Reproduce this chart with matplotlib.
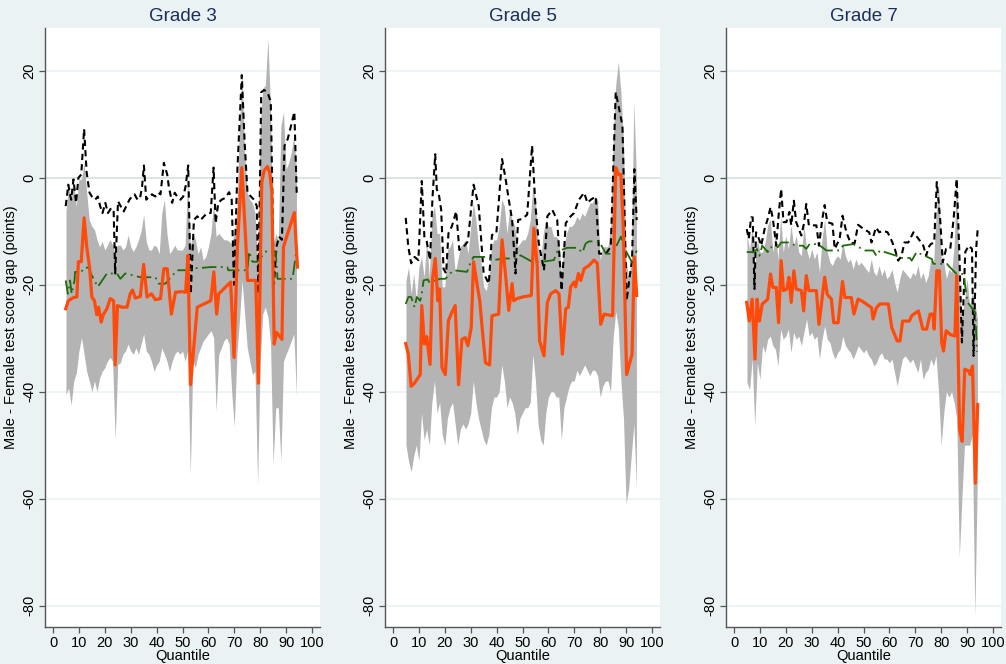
import numpy as np
import matplotlib.pyplot as plt

plt.rcParams['font.family'] = ['Liberation Sans', 'DejaVu Sans']
plt.rcParams['axes.unicode_minus'] = False

# quantile grid for the confidence band
q = list(range(5, 95))

# ---- Grade 3 ----
g3_est_x = [4.9, 5.9, 7.9, 9.2, 9.8, 10.9, 12.0, 13.0, 14.1, 15.0, 16.0, 16.9, 17.6, 18.6, 19.5, 20.8,
            22.1, 23.4, 24.0, 24.9, 26.6, 28.6, 29.8, 30.7, 31.8, 33.7, 35.0, 36.3, 38.0, 39.5, 41.5,
            42.8, 44.1, 45.7, 47.3, 49.9, 51.2, 52.1, 53.1, 55.7, 60.9, 62.1, 63.2, 64.0, 68.6, 69.9,
            71.2, 72.9, 74.4, 75.1, 78.3, 79.3, 80.6, 81.5, 82.8, 83.7, 84.5, 85.4, 86.3, 88.4, 89.0,
            93.2, 94.4]
g3_est_y = [-24.5, -23, -22.4, -22.3, -15.7, -15.7, -7.5, -12.9, -16.7, -22.3, -23, -25.6, -24.2, -27,
            -25.5, -24.5, -22.6, -23, -35, -23.9, -24.2, -24.2, -21.7, -21, -22.5, -22.2, -16.2, -22.3,
            -21.7, -22.8, -22.6, -17, -17, -25.5, -21.4, -21.3, -21.4, -14.5, -38.7, -24.2, -23, -17.6,
            -25.5, -21.7, -19.5, -33.6, -12.9, 1.9, -11.6, -19.2, -19.2, -38.4, -0.9, 1.3, 2.1, 0.9,
            -2.5, -31.1, -28.9, -30.2, -12.9, -6.5, -16.7]
g3_hi = [-6.3, -1.6, -4.1, -0.9, -5.3, -0.3, -0.3, 2.8, -2.8, -7.9, -9.1, -9.7, -11.6, -12.9, -11.9,
         -13.5, -12.6, -11.6, -12.6, -14.2, -12.6, -12.6, -13.5, -12.9, -10.7, -12.9, -13.8, -12.9,
         -11.6, -10, -6.9, -11.9, -13.5, -13.5, -12.6, -12.9, -14.2, -6.6, -4.1, -10.4, -14.2, -13.5,
         -12.6, -13.5, -13.5, -13.5, -12.6, -0.3, -12.9, -10.4, -11.6, -14.2, -12.9, -15.4, -14.8,
         -12.9, -10.4, -4.7, -11, -10.4, -11, -11.6, -11.6, -11.9, -12.3, -10.4, -6, 9.7, 19.2, 4.7,
         -2.8, -4.1, -4.7, -6.6, -15.4, 9.7, 16.7, 17.3, 26, 12.9, -12.9, -10.4, -11.6, 9.7, 12.3,
         1.6, 2.8, 4.7, 7.9, 1.6]
g3_lo = [-40.6, -39.3, -42.5, -38, -36.5, -32.4, -29.9, -33, -36.2, -38, -40, -38, -40, -37.4, -36.2,
         -35.5, -34.3, -33.6, -34.3, -49, -34.9, -34.6, -33, -32.4, -31.1, -32.4, -33, -31.8, -33,
         -31.1, -29.2, -32.4, -33, -34.3, -36.2, -35, -34.3, -31.8, -33, -34.3, -36.2, -34.3, -33,
         -32.4, -33, -32.4, -34.3, -32.4, -55.5, -34.3, -35.5, -33, -31.8, -30.5, -29.9, -29.2,
         -28.6, -29.9, -43.7, -33, -31.8, -30.5, -29.9, -31.1, -40, -46.5, -33, -26.7, -19.2, -25.5,
         -31.8, -34.3, -36.8, -36.2, -57.2, -34.3, -25.4, -24.2, -26.1, -31.1, -53.6, -43, -43, -53,
         -34.3, -33, -31.8, -30.5, -29.2, -40.7]
g3_ub_x = [4.9, 5.9, 7.0, 7.9, 8.9, 9.8, 10.9, 12.0, 13.0, 14.1, 15.0, 16.3, 17.3, 18.2, 19.1, 20.2,
           21.2, 22.4, 23.4, 24.0, 25.1, 26.1, 27.3, 28.3, 29.5, 30.5, 31.5, 32.6, 33.6, 34.4, 35.1,
           36.0, 37.1, 38.2, 39.5, 40.6, 41.5, 42.8, 44.1, 44.7, 46.0, 47.0, 47.9, 49.2, 50.3, 51.2,
           52.2, 53.2, 54.4, 55.7, 57.0, 58.3, 59.6, 60.9, 62.0, 62.8, 63.8, 65.1, 66.4, 68.0, 69.0,
           69.9, 71.2, 72.9, 74.0, 75.1, 76.4, 77.6, 78.7, 79.3, 80.4, 81.5, 82.8, 84.1, 85.3, 86.3,
           87.3, 88.4, 89.4, 90.6, 91.6, 93.2, 94.1]
g3_ub_y = [-5.3, -1.3, -4.1, -0.3, -4.7, 0, 0.6, 9.1, 0.9, -2.8, -3.5, -4.1, -3.5, -5.3, -6.6, -4.7,
           -6.6, -5.7, -6, -17.9, -4.4, -5.3, -6.3, -5.3, -4.1, -3.5, -3.1, -4.1, -3.8, -1.6, 2.3,
           -4.1, -3.5, -3.1, -3.5, -2.8, -3.1, 2.8, 0.6, -1.6, -4.7, -2.8, -3.5, -4.1, -3.5, -1.6,
           2.3, -21.7, -7.9, -7.2, -7.9, -7.2, -6.6, -6.6, 1.9, -8.5, -4.7, -4.1, -3.8, -2.7, -4.1,
           -20, 1.6, 19.2, 6.6, -2.8, -3.5, -4.1, -5.3, -21.7, 16, 16.4, 16, 14.2, -20, -12.9, -11,
           -11.6, 6, 7.2, 9.1, 12.3, -2.8]
g3_ols_x = [4.9, 5.7, 6.6, 7.2, 8.3, 8.5, 10.9, 12.1, 13.7, 15.0, 17.3, 20.8, 24.7, 26.0, 27.9, 33.7,
            39.5, 40.8, 43.4, 47.9, 52.5, 53.7, 56.3, 60.9, 67.3, 67.7, 70.5, 75.1, 75.7, 77.0, 78.9,
            82.2, 86.0, 86.7, 92.5, 93.8]
g3_ols_y = [-19.2, -21.7, -19.2, -21.7, -19.2, -17.6, -17.6, -16.8, -16.8, -18.3, -20.4, -17.9, -17.9,
            -18.9, -17.9, -18.6, -18.6, -19.8, -19.8, -17.3, -17.3, -16.9, -16.9, -16.7, -16.7, -17.3,
            -17.3, -17.3, -13.8, -15.7, -15.7, -13.8, -13.8, -18.9, -18.9, -14.2]

# ---- Grade 5 ----
g5_est_x = [4.9, 5.9, 7.0, 8.3, 10.5, 11.1, 12.1, 13.0, 14.3, 15.2, 16.3, 17.3, 18.0, 18.9, 20.2, 21.4,
            22.7, 24.0, 25.3, 26.6, 27.9, 28.9, 30.2, 31.1, 32.4, 33.5, 34.4, 35.7, 37.3, 38.2, 40.8,
            42.1, 43.4, 44.7, 46.0, 46.6, 47.9, 49.9, 53.4, 54.4, 55.7, 56.6, 58.3, 59.6, 60.9, 62.8,
            64.1, 65.4, 66.7, 67.7, 68.6, 69.9, 70.5, 71.6, 72.5, 73.8, 75.7, 77.6, 78.9, 80.2, 81.5,
            84.8, 86.0, 87.1, 88.0, 88.9, 90.2, 92.3, 93.2, 94.1]
g5_est_y = [-31, -33, -39, -38.4, -36.8, -23.9, -31.1, -29.7, -34.9, -19.2, -15.1, -23, -20.8, -35.5,
            -36.8, -26.7, -25.2, -23.9, -38.7, -30.2, -29.9, -31.4, -28, -15.7, -19.8, -23, -28, -34.6,
            -35, -25.8, -25.5, -11.6, -17.9, -24.8, -19.8, -23, -22.6, -22.3, -22, -9.4, -16.7, -30.5,
            -33.3, -23.3, -21.7, -21.1, -21.7, -33, -24.5, -24.2, -20.4, -19.5, -20.4, -17.9, -19.2,
            -17, -16.4, -15.4, -16, -27.4, -25.5, -25.8, 1.9, 0.6, 0.6, -9.1, -36.8, -33, -14.8, -22]
g5_hi = [-19.2, -16.7, -21.7, -17.9, -23, -16.7, -14.8, -18.6, -11.6, -18.6, -7.2, -5.3, -10.4, -10.4,
         -20.4, -20.4, -13.5, -12.9, -11.6, -17.9, -15.4, -12.9, -12.3, -11.6, -14.2, -9.1, -4.7, -7.9,
         -12.9, -16, -20.4, -21.1, -18.6, -12.9, -11.6, -11.6, -9.1, -4.1, -5.3, -10.4, -6, -7.9,
         -9.1, -12.9, -12.3, -11.6, -11.6, -10.4, -7.9, -1.6, -4.1, -12.9, -15.4, -10.4, -7.9, -9.1,
         -9.1, -11, -11, -11.6, -17.9, -12.9, -10.4, -9.1, -9.1, -8.5, -7.2, -7.9, -6.6, -7.2, -6,
         -4.7, -4.7, -3.5, -4.1, -15.4, -12.9, -12.9, -12.9, -9.1, 6.6, 17.3, 21.7, 16, 6.6, -15.4,
         -18.6, -15.4, 14.2, -0.3]
g5_lo = [-50, -53, -55, -52, -50, -53, -44, -49, -47, -50, -42, -38, -44, -42, -48, -50, -45, -43,
         -42, -46, -50, -47, -46, -47, -46, -44, -38, -42, -45, -47, -49, -50, -48, -43, -41, -41,
         -40, -35, -38, -43, -41, -42, -44, -48, -45, -44, -43, -43, -42, -33, -38, -46, -49, -50,
         -44, -41, -40, -40, -41, -41, -49, -43, -41, -39, -38, -38, -36, -37, -36, -35, -36, -37,
         -36, -36, -37, -41, -39, -38, -38, -40, -30, -25, -28, -38, -45, -61, -58, -52, -46, -58]
g5_ub_x = [4.9, 5.9, 7.0, 8.3, 9.8, 11.1, 12.1, 13.0, 14.3, 15.2, 16.3, 16.9, 17.6, 18.6, 19.5, 20.5,
           21.4, 22.7, 24.4, 25.6, 27.3, 28.9, 31.1, 33.1, 35.0, 37.0, 38.2, 39.9, 42.1, 43.4, 44.7,
           46.0, 47.3, 48.3, 49.9, 51.8, 53.7, 55.0, 56.3, 58.3, 59.6, 61.5, 63.4, 65.1, 66.7, 68.6,
           69.9, 71.8, 73.8, 75.1, 76.4, 78.3, 79.6, 82.2, 84.1, 86.0, 87.3, 88.6, 90.2, 91.2, 92.3,
           93.2, 94.1]
g5_ub_y = [-7.5, -12.9, -16, -14.8, -15.4, -0.6, -11, -11.9, -15.4, -4.1, 4.4, -2.2, -2.8, -6, -17,
           -17.9, -10.4, -9.1, -6.3, -13.5, -12.9, -11.9, -1.3, -5.3, -17.9, -19.8, -10.7, -10.4, 3.5,
           0, -4.1, -7.9, -17.9, -7.9, -7.7, -6.9, 6, -5.3, -12.3, -17.3, -7.2, -6, -7.9, -21.1,
           -8.5, -7.2, -6.6, -4.1, -2.8, -4.7, -4.1, -3.5, -14.2, -14.2, -12.9, 16, 12.9, 9.7, -23,
           -19.2, -15.4, 1.6, -7.9]
g5_ols_x = [4.9, 5.9, 7.0, 8.3, 9.2, 10.5, 11.1, 11.8, 13.4, 15.0, 16.3, 18.2, 20.2, 22.1, 23.4, 28.6,
            29.8, 31.1, 35.7, 38.2, 40.2, 42.8, 47.9, 49.2, 53.7, 57.6, 62.1, 63.4, 67.3, 71.2, 73.1,
            74.4, 75.7, 79.6, 82.2, 84.8, 88.0, 89.7, 92.5, 94.1]
g5_ols_y = [-23.6, -22.3, -22.3, -24.2, -22.3, -23, -21.7, -19.2, -19, -20.4, -19.2, -18.9, -18.9,
            -17.9, -17.3, -17.6, -16, -14.8, -14.8, -15.3, -15.3, -15.1, -15.1, -14.5, -15.7, -15.7,
            -15.4, -13.8, -13.1, -13.1, -14, -12.3, -11.9, -11.9, -14.2, -14.2, -11, -13.5, -16, -13.6]

# ---- Grade 7 ----
g7_est_x = [4.9, 5.9, 7.0, 8.1, 8.9, 9.8, 10.9, 12.4, 13.0, 14.1, 15.0, 16.3, 17.2, 18.2, 19.1, 20.4,
            21.2, 22.1, 23.1, 24.0, 26.0, 26.9, 27.9, 28.9, 31.8, 32.8, 35.0, 36.0, 37.6, 38.5, 40.2,
            41.9, 42.8, 45.3, 46.3, 47.9, 49.2, 50.5, 53.1, 53.7, 55.0, 56.3, 59.6, 60.9, 63.0, 64.1,
            65.1, 67.7, 68.6, 71.2, 72.9, 74.4, 75.7, 76.8, 77.3, 78.3, 79.3, 80.2, 80.9, 81.9, 83.5,
            85.3, 86.0, 87.1, 88.1, 89.1, 90.6, 91.2, 92.1, 93.2, 94.1]
g7_est_y = [-23.3, -26.8, -22.7, -33.9, -22.7, -26.8, -23.6, -23, -22.7, -18, -20.5, -20.5, -27.1,
            -15.5, -21.1, -20.8, -18.6, -23.3, -17.4, -20.8, -21.1, -24.9, -18.3, -21.1, -21.1, -27.4,
            -18.6, -21.8, -22.7, -27.1, -27.1, -19.4, -22.4, -22.4, -25.5, -22.7, -23, -23.4, -24.3,
            -26.4, -24.3, -23.6, -23.6, -28, -30.5, -30.5, -26.8, -26.8, -25.8, -24.9, -28.3, -28.3,
            -25.5, -25.5, -28.3, -17.4, -17.4, -30.8, -32.4, -28.6, -29.3, -29.6, -18.3, -47.1, -49.3,
            -35.8, -36.1, -36.8, -35.2, -57.1, -42.4]
g7_hi = [-10.5, -13.6, -8.9, -17.1, -11.4, -13.9, -13.9, -12.1, -8.9, -7.7, -13.9, -10.8, -15.2, -7.1,
         -13.9, -10.8, -13.3, -8.9, -12.7, -10.8, -13.9, -14.6, -8.9, -13.3, -15.2, -13.3, -15.2,
         -13.9, -17.7, -11.4, -7.7, -13.9, -15.8, -16.4, -15.2, -14.6, -15.2, -12.1, -14.6, -15.8,
         -15.2, -17.1, -15.2, -16.4, -15.8, -16.4, -17.1, -17.7, -15.2, -17.7, -18.3, -16.4, -18.3,
         -17.1, -18.9, -18.3, -17.1, -19.6, -21.4, -18.9, -17.1, -17.7, -18.3, -18.9, -17.7, -18.3,
         -16.4, -18.9, -17.7, -19.6, -18.3, -15.2, -16.4, -7.7, -0.8, -15.2, -15.8, -18.9, -17.1,
         -17.7, -12.7, 0.4, -20.2, -26.4, -22.7, -18.9, -23.9, -21.4, -23.3, -26.4]
g7_lo = [-38.3, -39.6, -33.9, -46.4, -34.6, -37.7, -31.4, -32.7, -30.2, -29.6, -31.4, -32.1, -35.2,
         -28.3, -30.2, -29.6, -28.3, -32.7, -28.9, -30.2, -29.6, -31.4, -28.9, -26.4, -29.6, -28.9,
         -30.2, -29.6, -33.9, -30.2, -27.7, -30.2, -30.8, -32.7, -33.9, -32.7, -32.1, -29.6, -31.4,
         -32.1, -32.7, -33.9, -32.7, -31.4, -32.1, -32.7, -32.1, -33.3, -33.9, -35.2, -34.6, -33.3,
         -32.7, -33.9, -33.9, -34.6, -33.9, -36.4, -38.9, -36.4, -33.9, -33.3, -33.9, -34.6, -33.9,
         -35.2, -36.4, -33.9, -37.7, -36.4, -35.8, -33.9, -35.2, -33.3, -40.2, -50, -44, -40, -41,
         -40, -42, -45, -71, -60, -50, -50, -50, -48, -82, -55]
g7_ub_x = [4.9, 5.7, 6.6, 7.2, 7.9, 8.5, 9.6, 10.5, 11.8, 13.0, 14.1, 15.0, 16.3, 17.2, 18.2, 19.1,
           20.2, 21.4, 22.1, 23.1, 24.0, 26.0, 27.0, 27.9, 28.9, 31.8, 32.8, 34.1, 35.0, 36.0, 38.0,
           38.9, 40.8, 41.9, 43.4, 45.0, 46.6, 47.9, 50.1, 52.2, 53.1, 54.8, 56.1, 57.6, 59.3, 60.9,
           62.1, 63.4, 64.7, 65.8, 67.3, 69.3, 71.2, 73.1, 74.2, 75.1, 76.0, 77.3, 78.3, 79.6, 80.6,
           81.9, 83.5, 84.8, 86.0, 87.0, 88.0, 89.3, 90.6, 91.9, 92.5, 93.5, 94.1]
g7_ub_y = [-9.6, -11.4, -7.4, -7.4, -20.8, -10.2, -11.4, -12.7, -9.6, -7.7, -5.5, -7.7, -12.7, -7.1,
           -2.1, -8.3, -8.3, -6.4, -8.9, -4.3, -8.3, -10.8, -8.6, -4.9, -8.9, -8.9, -12.7, -7.7,
           -5.1, -8.3, -8.6, -13.3, -11.4, -7.1, -10.2, -12.2, -12.2, -8.8, -9.6, -10.2, -12.1,
           -9.3, -10.2, -9.9, -10.2, -11.8, -13.3, -15.5, -14.6, -12.1, -12.1, -10.2, -11.4, -12.7,
           -14.6, -13, -12.4, -12.1, -0.8, -7.7, -15.8, -13.3, -13.3, -7.7, -0.2, -13.9, -30.8,
           -13.9, -12.7, -13.3, -33.3, -13.3, -9.6]
g7_ols_x = [4.9, 7.9, 8.8, 9.8, 10.9, 13.0, 13.7, 16.9, 18.2, 20.8, 24.0, 26.6, 27.9, 29.2, 32.4,
            35.7, 40.8, 42.1, 46.0, 50.5, 53.7, 55.0, 56.3, 62.8, 63.5, 67.9, 68.6, 70.5, 71.8, 76.4,
            77.0, 82.2, 83.5, 86.0, 88.6, 90.2, 93.2, 93.8, 94.1]
g7_ols_y = [-13.9, -13.9, -13.3, -14.6, -12.7, -13.9, -13, -13, -12.1, -12.1, -12.7, -12.7, -13.3,
            -12.4, -12.4, -13.6, -13.6, -12.7, -12.4, -13.6, -13.6, -14.6, -13.6, -14.6, -15, -15,
            -15.5, -13.9, -14.2, -15.2, -16.1, -16.1, -16.8, -18, -18, -23.3, -25.2, -32.4, -32.4]

grades = [
    ('Grade 3', g3_est_x, g3_est_y, g3_lo, g3_hi, g3_ub_x, g3_ub_y, g3_ols_x, g3_ols_y),
    ('Grade 5', g5_est_x, g5_est_y, g5_lo, g5_hi, g5_ub_x, g5_ub_y, g5_ols_x, g5_ols_y),
    ('Grade 7', g7_est_x, g7_est_y, g7_lo, g7_hi, g7_ub_x, g7_ub_y, g7_ols_x, g7_ols_y),
]

bg = '#EAF2F3'
fig = plt.figure(figsize=(10.06, 6.64), dpi=100, facecolor=bg)
lefts = [45, 385, 726]

for left, (title, ex, ey, lo, hi, ux, uy, ox, oy) in zip(lefts, grades):
    ax = fig.add_axes([left / 1006, 37 / 664, 275 / 1006, 599 / 664])
    ax.set_facecolor('white')
    ax.set_xlim(-3.1, 103.1)
    ax.set_ylim(-84, 28)
    ax.set_yticks([-80, -60, -40, -20, 0, 20])
    ax.set_xticks(range(0, 101, 10))
    ax.grid(axis='y', color=bg, lw=1.2, zorder=0)
    ax.axhline(0, color='#7FA3A0', lw=1.3, zorder=1)

    ax.fill_between(q, lo, hi, color='#B4B4B4', lw=0, zorder=2)
    ax.plot(ux, uy, color='black', lw=1.5, dashes=(3, 2), zorder=3)
    ax.plot(ox, oy, color='#1E6B0A', lw=1.3, dashes=(8, 2.5, 1, 2.5), zorder=4)
    ax.plot(ex, ey, color='#FF4A0A', lw=2.3, zorder=5)

    for s in ['top', 'right']:
        ax.spines[s].set_visible(False)
    for s in ['left', 'bottom']:
        ax.spines[s].set_color('#555555')
        ax.spines[s].set_linewidth(1.0)
    ax.tick_params(axis='both', colors='#555555', labelcolor='black', labelsize=10.5,
                   length=4, width=0.9, pad=2.5)
    for lab in ax.get_yticklabels():
        lab.set_rotation(90)
        lab.set_va('center')
    ax.set_title(title, fontsize=13.5, color='#1C2F5C', pad=5)
    ax.set_ylabel('Male - Female test score gap (points)', fontsize=10.5, labelpad=3)
    ax.set_xlabel('Quantile', fontsize=10.5, labelpad=-1)

fig.savefig('out.png', dpi=100, facecolor=bg)
